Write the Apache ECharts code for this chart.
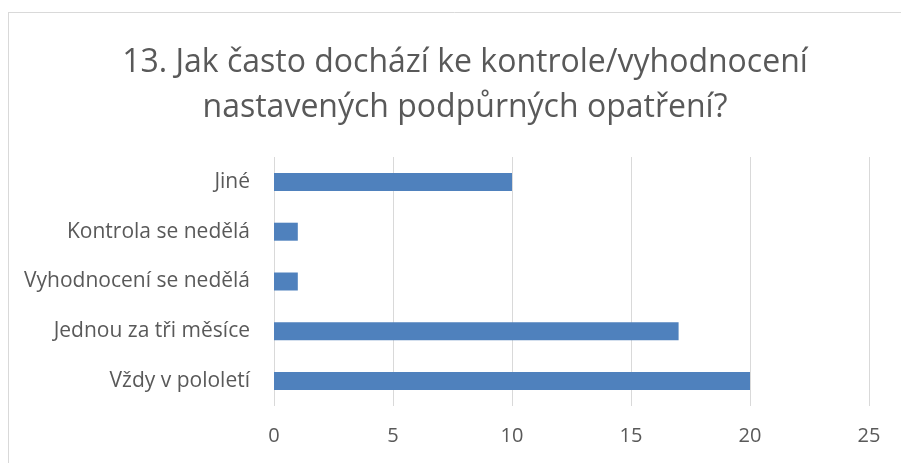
<!DOCTYPE html>
<html><head><meta charset="utf-8">
<script src="https://cdn.jsdelivr.net/npm/echarts@6/dist/echarts.min.js"></script>
<style>html,body{margin:0;padding:0;background:#fff}#c{width:901px;height:463px}</style>
</head><body><div id="c"></div>
<script>
const titleText = '13. Jak často dochází ke kontrole/vyhodnocení\nnastavených podpůrných opatření?';
const categories = ['Vždy v pololetí', 'Jednou za tři měsíce', 'Vyhodnocení se nedělá', 'Kontrola se nedělá', 'Jiné'];
const values = [20, 17, 1, 1, 10];
const xTicks = { min: 0, max: 25, interval: 5 };

const chart = echarts.init(document.getElementById('c'), null, {renderer: 'canvas'});
chart.setOption({
  animation: false,
  backgroundColor: '#fff',
  title: {
    text: titleText,
    left: 460, top: 35, textAlign: 'center',
    textStyle: { fontFamily: 'Open Sans', fontSize: 32, fontWeight: 'normal', color: '#595959', lineHeight: 45 }
  },
  graphic: [
    { type: 'line', shape: { x1: 8, y1: 12.5, x2: 901, y2: 12.5 }, style: { stroke: '#d9d9d9', lineWidth: 1 } },
    { type: 'line', shape: { x1: 8.5, y1: 12, x2: 8.5, y2: 463 }, style: { stroke: '#d9d9d9', lineWidth: 1 } }
  ],
  grid: { left: 274, right: 32, top: 157, bottom: 57, containLabel: false },
  xAxis: {
    type: 'value', min: xTicks.min, max: xTicks.max, interval: xTicks.interval,
    axisLine: { show: false }, axisTick: { show: false },
    splitLine: { lineStyle: { color: '#d9d9d9', width: 1 } },
    axisLabel: { color: '#595959', fontSize: 20, fontFamily: 'Open Sans', margin: 20 }
  },
  yAxis: {
    type: 'category', data: categories,
    axisLine: { show: false }, axisTick: { show: false },
    axisLabel: { color: '#595959', fontSize: 21, fontFamily: 'Open Sans', margin: 24 }
  },
  series: [{
    type: 'bar', data: values, barWidth: 18,
    itemStyle: { color: '#4f81bd' }
  }]
});
</script></body></html>
